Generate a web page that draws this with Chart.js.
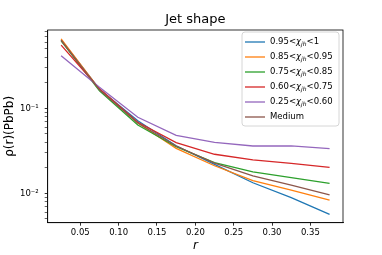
<!DOCTYPE html>
<html lang="en">
<head>
    <meta charset="UTF-8">
    <title>Jet shape</title>
    <script src="https://cdn.jsdelivr.net/npm/chart.js"></script>
    <style>
        body { margin: 0; background: #ffffff; }
        canvas { display: block; }
    </style>
</head>
<body>
    <canvas id="jetChart" width="382" height="255"></canvas>
    <script>
        // r bins (bin centres)
        const rValues = [0.025, 0.075, 0.125, 0.175, 0.225, 0.275, 0.325, 0.375];

        // rho(r) per chi_jh class
        const chi095to1 = [0.64, 0.168, 0.0714, 0.0363, 0.0219, 0.0133, 0.0089, 0.00566];
        const chi085to095 = [0.655, 0.167, 0.067, 0.0338, 0.0211, 0.0141, 0.0109, 0.0083];
        const chi075to085 = [0.622, 0.161, 0.0637, 0.0353, 0.0229, 0.0179, 0.0153, 0.0131];
        const chi060to075 = [0.553, 0.170, 0.0684, 0.0394, 0.0288, 0.0247, 0.0225, 0.0202];
        const chi025to060 = [0.416, 0.177, 0.0784, 0.048, 0.0398, 0.036, 0.0362, 0.0335];
        const medium = [0.632, 0.165, 0.067, 0.036, 0.0226, 0.016, 0.0125, 0.0096];

        // legend pieces: text before chi, text after the subscript
        const legendParts = [
            ['0.95<', '<1'],
            ['0.85<', '<0.95'],
            ['0.75<', '<0.85'],
            ['0.60<', '<0.75'],
            ['0.25<', '<0.60'],
            ['Medium', null]
        ];
        const seriesColors = ['#1f77b4', '#ff7f0e', '#2ca02c', '#d62728', '#9467bd', '#8c564b'];
        const seriesData = [chi095to1, chi085to095, chi075to085, chi060to075, chi025to060, medium];

        const xTicks = [0.05, 0.10, 0.15, 0.20, 0.25, 0.30, 0.35];
        const yMajorTicks = [0.01, 0.1];
        const yTickLabels = ['10⁻²', '10⁻¹'];
        const titleText = 'Jet shape';

        const FONT = "'DejaVu Sans', sans-serif";

        // minor log ticks 2..9 x 10^n inside the axis range
        const yMinorTicks = [];
        [0.001, 0.01, 0.1].forEach(function (d) {
            for (let k = 2; k <= 9; k++) yMinorTicks.push(+(k * d).toPrecision(3));
        });

        const datasets = seriesData.map(function (vals, i) {
            return {
                label: legendParts[i].join(''),
                data: rValues.map(function (r, j) { return { x: r, y: vals[j] }; }),
                borderColor: seriesColors[i],
                backgroundColor: seriesColors[i],
                borderWidth: 1.3,
                pointRadius: 0,
                tension: 0,
                fill: false,
                order: seriesData.length - i
            };
        });

        // frame, title centred on the axes and matplotlib style legend
        const extras = {
            id: 'extras',
            afterDraw(chart) {
                const ctx = chart.ctx;
                const a = chart.chartArea;
                ctx.save();
                ctx.strokeStyle = '#000';
                ctx.lineWidth = 0.8;
                ctx.strokeRect(a.left, a.top, a.right - a.left, a.bottom - a.top);

                ctx.fillStyle = '#000';
                ctx.font = '13px ' + FONT;
                ctx.textAlign = 'center';
                ctx.textBaseline = 'middle';
                ctx.fillText(titleText, (a.left + a.right) / 2, 20);
                ctx.textAlign = 'left';

                // legend box
                const bx = 242, by = 32, bw = 97, bh = 94, rad = 3;
                ctx.beginPath();
                ctx.moveTo(bx + rad, by);
                ctx.arcTo(bx + bw, by, bx + bw, by + bh, rad);
                ctx.arcTo(bx + bw, by + bh, bx, by + bh, rad);
                ctx.arcTo(bx, by + bh, bx, by, rad);
                ctx.arcTo(bx, by, bx + bw, by, rad);
                ctx.closePath();
                ctx.fillStyle = 'rgba(255,255,255,0.8)';
                ctx.fill();
                ctx.strokeStyle = '#cccccc';
                ctx.lineWidth = 0.8;
                ctx.stroke();

                legendParts.forEach(function (p, i) {
                    const y = 42 + i * 15;
                    ctx.strokeStyle = seriesColors[i];
                    ctx.lineWidth = 1.3;
                    ctx.beginPath();
                    ctx.moveTo(245, y);
                    ctx.lineTo(265, y);
                    ctx.stroke();

                    ctx.fillStyle = '#000';
                    let x = 270;
                    ctx.font = '8.5px ' + FONT;
                    ctx.fillText(p[0], x, y);
                    x += ctx.measureText(p[0]).width;
                    if (p[1] !== null) {
                        ctx.font = 'italic 8.5px ' + FONT;
                        ctx.fillText('χ', x, y);
                        x += ctx.measureText('χ').width;
                        ctx.font = 'italic 6px ' + FONT;
                        ctx.fillText('jh', x, y + 2);
                        x += ctx.measureText('jh').width;
                        ctx.font = '8.5px ' + FONT;
                        ctx.fillText(p[1], x, y);
                    }
                });
                ctx.restore();
            }
        };

        new Chart(document.getElementById('jetChart'), {
            type: 'line',
            data: { datasets: datasets },
            plugins: [extras],
            options: {
                responsive: false,
                animation: false,
                devicePixelRatio: 1,
                layout: { padding: { left: 0, right: 39, top: 30, bottom: 0 } },
                plugins: {
                    legend: { display: false },
                    tooltip: { enabled: false },
                    title: { display: false }
                },
                scales: {
                    x: {
                        type: 'linear',
                        min: 0.0075,
                        max: 0.3925,
                        afterBuildTicks(scale) {
                            scale.ticks = xTicks.map(function (v) { return { value: v }; });
                        },
                        afterFit(scale) { scale.height = 32.3; },
                        grid: {
                            display: true, drawOnChartArea: false, drawTicks: true,
                            tickLength: 3, tickColor: '#000', tickWidth: 0.8
                        },
                        border: { display: true, color: '#000', width: 0.8 },
                        ticks: {
                            color: '#000',
                            padding: 2,
                            maxRotation: 0,
                            font: { family: FONT, size: 8.5 },
                            callback: function (v) { return v.toFixed(2); }
                        },
                        title: {
                            display: true,
                            text: 'r',
                            color: '#000',
                            font: { family: FONT, size: 12, style: 'italic', lineHeight: 1.2 },
                            padding: { top: 0, bottom: 2 }
                        }
                    },
                    y: {
                        type: 'logarithmic',
                        min: 0.00451,
                        max: 0.834,
                        afterBuildTicks(scale) {
                            const all = yMinorTicks.concat(yMajorTicks)
                                .filter(function (v) { return v >= 0.00451 && v <= 0.834; })
                                .sort(function (a, b) { return a - b; });
                            scale.ticks = all.map(function (v) { return { value: v }; });
                        },
                        afterFit(scale) { scale.width = 47.7; },
                        grid: {
                            display: true, drawOnChartArea: false, drawTicks: true,
                            tickLength: 3, tickColor: '#000',
                            tickWidth: function (c) {
                                return c.tick && yMajorTicks.some(function (m) { return Math.abs(m - c.tick.value) < 1e-9; }) ? 0.8 : 0.6;
                            }
                        },
                        border: { display: true, color: '#000', width: 0.8 },
                        ticks: {
                            color: '#000',
                            padding: 6,
                            autoSkip: false,
                            font: { family: FONT, size: 8.5 },
                            callback: function (v) {
                                const k = yMajorTicks.findIndex(function (m) { return Math.abs(m - v) < 1e-9; });
                                return k >= 0 ? yTickLabels[k] : '';
                            }
                        },
                        title: {
                            display: true,
                            text: 'ρ(r)(PbPb)',
                            color: '#000',
                            font: { family: FONT, size: 12, lineHeight: 1.2 },
                            padding: { top: 3, bottom: 0 }
                        }
                    }
                }
            }
        });
    </script>
</body>
</html>
